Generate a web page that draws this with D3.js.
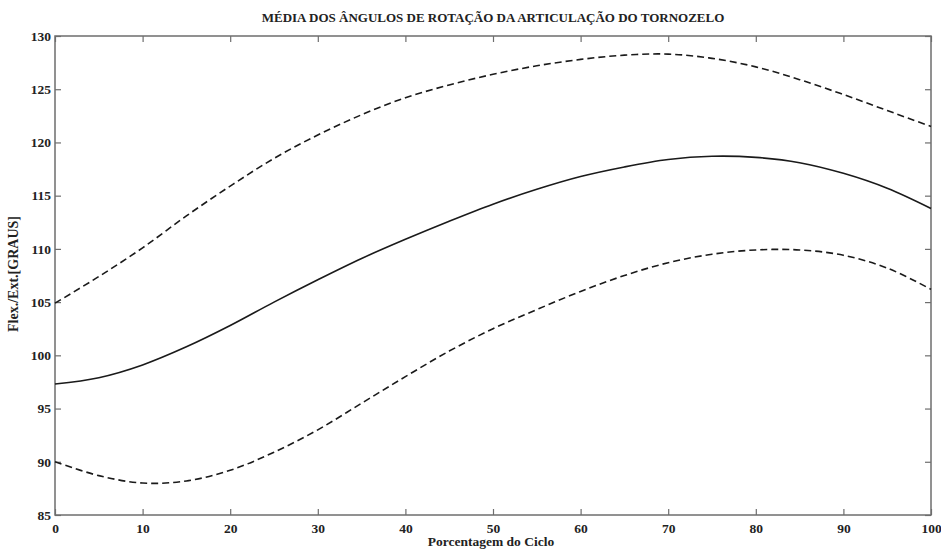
<!DOCTYPE html>
<html>
<head>
<meta charset="utf-8">
<script src="https://cdn.jsdelivr.net/npm/d3@7"></script>
<style>
  body { margin: 0; background: #fff; }
</style>
</head>
<body>
<script>
// Percent of gait cycle
const cycle = [0, 5, 10, 15, 20, 25, 30, 35, 40, 45, 50, 55, 60, 65, 70, 75, 80, 85, 90, 95, 100];
// mean + 1 sd (upper dashed)
const upper = [104.9, 107.4, 110.1, 113.1, 115.9, 118.5, 120.7, 122.6, 124.2, 125.4, 126.4, 127.2, 127.8, 128.2, 128.3, 127.9, 127.1, 125.9, 124.5, 123.0, 121.5];
// mean (solid)
const mean = [97.3, 97.9, 99.1, 100.8, 102.8, 105.0, 107.1, 109.1, 110.9, 112.6, 114.2, 115.6, 116.8, 117.7, 118.4, 118.7, 118.6, 118.1, 117.1, 115.7, 113.8];
// mean - 1 sd (lower dashed)
const lower = [90.0, 88.7, 88.0, 88.2, 89.2, 90.9, 93.0, 95.5, 98.0, 100.4, 102.5, 104.3, 106.0, 107.5, 108.7, 109.5, 109.9, 109.9, 109.4, 108.2, 106.2];

const xTicks = [0, 10, 20, 30, 40, 50, 60, 70, 80, 90, 100];
const yTicks = [85, 90, 95, 100, 105, 110, 115, 120, 125, 130];

const serif = '"Liberation Serif", "Times New Roman", serif';

const width = 941, height = 550;
const margin = { top: 36, right: 10, bottom: 35, left: 55 };
const plotW = 931 - margin.left;
const plotH = 515 - margin.top;

const svg = d3.select("body").append("svg")
  .attr("width", width)
  .attr("height", height);

const g = svg.append("g")
  .attr("transform", `translate(${margin.left},${margin.top})`);

const x = d3.scaleLinear().domain([0, 100]).range([0, plotW]);
const y = d3.scaleLinear().domain([85, 130]).range([plotH, 0]);

// axes (ticks pointing inward, MATLAB style)
const axisColor = "#6e6e6e";
function styleAxis(sel, showLabels) {
  sel.attr("font-family", null);
  sel.select(".domain").remove();
  sel.selectAll(".tick line").attr("stroke", axisColor).attr("stroke-width", 1.2);
  sel.selectAll(".tick text")
    .attr("fill", "#222")
    .style("font-family", serif)
    .style("font-size", "13.5px")
    .style("font-weight", "bold");
  if (!showLabels) sel.selectAll(".tick text").remove();
}

g.append("g").attr("transform", `translate(0,${plotH})`)
  .call(d3.axisBottom(x).tickValues(xTicks).tickSizeInner(-6).tickSizeOuter(0).tickPadding(8))
  .call(s => styleAxis(s, true));
g.append("g")
  .call(d3.axisTop(x).tickValues(xTicks).tickSizeInner(-6).tickSizeOuter(0))
  .call(s => styleAxis(s, false));
g.append("g")
  .call(d3.axisLeft(y).tickValues(yTicks).tickSizeInner(-6).tickSizeOuter(0).tickPadding(4))
  .call(s => styleAxis(s, true));
g.append("g").attr("transform", `translate(${plotW},0)`)
  .call(d3.axisRight(y).tickValues(yTicks).tickSizeInner(-6).tickSizeOuter(0))
  .call(s => styleAxis(s, false));

// frame
g.append("rect")
  .attr("x", 0).attr("y", 0)
  .attr("width", plotW).attr("height", plotH)
  .attr("fill", "none")
  .attr("stroke", axisColor)
  .attr("stroke-width", 1.5);

const line = d3.line()
  .x((d, i) => x(cycle[i]))
  .y(d => y(d))
  .curve(d3.curveCatmullRom);

const series = [
  { values: upper, dash: "7,4" },
  { values: mean, dash: null },
  { values: lower, dash: "7,4" }
];

g.selectAll("path.curve")
  .data(series)
  .enter()
  .append("path")
  .attr("class", "curve")
  .attr("d", d => line(d.values))
  .attr("fill", "none")
  .attr("stroke", "#1a1a1a")
  .attr("stroke-width", 1.6)
  .attr("stroke-dasharray", d => d.dash);

// title
svg.append("text")
  .attr("x", 493)
  .attr("y", 22)
  .attr("text-anchor", "middle")
  .style("font-family", serif)
  .style("font-size", "13px")
  .style("font-weight", "bold")
  .attr("fill", "#222")
  .text("MÉDIA DOS ÂNGULOS DE ROTAÇÃO DA ARTICULAÇÃO DO TORNOZELO");

// x label
svg.append("text")
  .attr("x", 491)
  .attr("y", 546)
  .attr("text-anchor", "middle")
  .style("font-family", serif)
  .style("font-size", "13.5px")
  .style("font-weight", "bold")
  .attr("fill", "#222")
  .text("Porcentagem do Ciclo");

// y label
svg.append("text")
  .attr("transform", `translate(18,274) rotate(-90)`)
  .attr("text-anchor", "middle")
  .style("font-family", serif)
  .style("font-size", "14px")
  .style("font-weight", "bold")
  .attr("fill", "#222")
  .text("Flex./Ext.[GRAUS]");
</script>
</body>
</html>
